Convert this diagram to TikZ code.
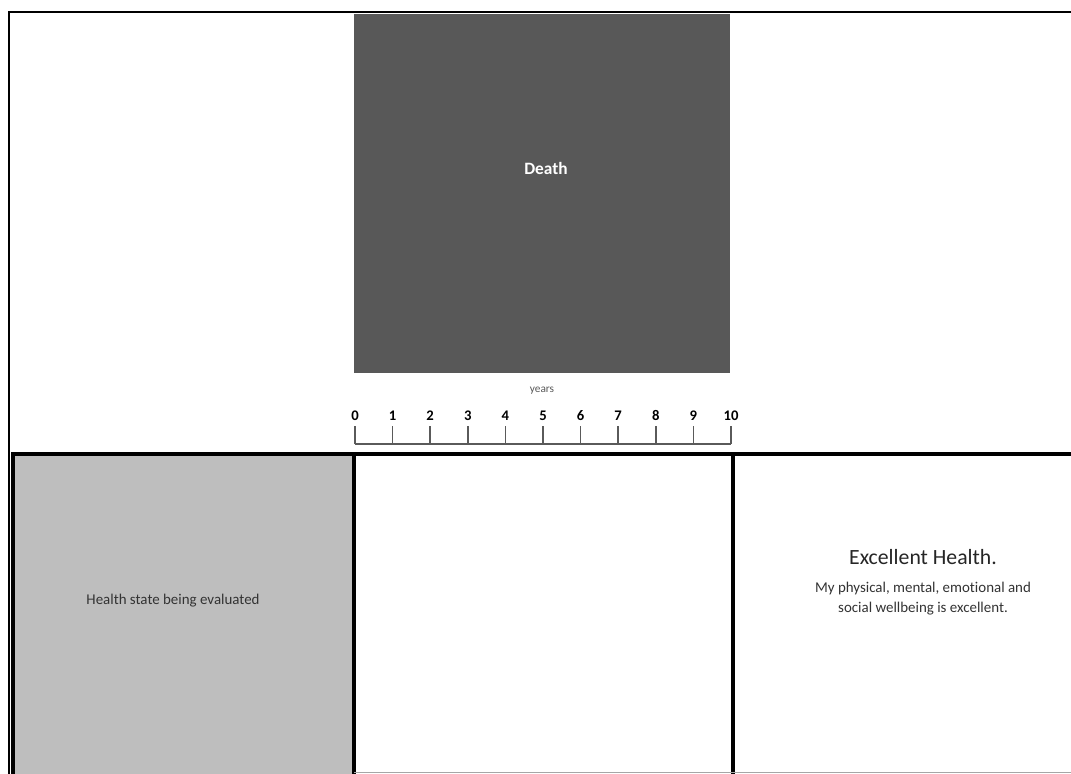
\documentclass[tikz,border=0pt]{standalone}
\usepackage{fontspec}
\setmainfont{Carlito}[Ligatures=NoCommon]
\definecolor{deathgray}{HTML}{585858}
\definecolor{stategray}{HTML}{BEBEBE}
\definecolor{rulegray}{HTML}{5A5A5A}
\definecolor{textgray}{HTML}{333333}
\begin{document}
\begin{tikzpicture}[x=0.75pt,y=-0.75pt,
  frameline/.style={draw=black,line width=1.6pt},
  boxline/.style={draw=black,line width=2.3pt},
  tickline/.style={draw=rulegray,line width=1.1pt},
  smalltext/.style={font=\fontsize{11.2pt}{15pt}\selectfont,text=textgray,align=center},
  numtext/.style={font=\fontsize{11pt}{12pt}\selectfont\bfseries,text=black,anchor=base,inner sep=0pt}]
\useasboundingbox (0,0) rectangle (1071,774);
\fill[white] (0,0) rectangle (1071,774);
% outer frame
\coordinate (ftl) at (9,12);
\coordinate (ftr) at (1075,12);
\coordinate (fbl) at (9,780);
\draw[frameline] (ftr) -- (ftl) -- (fbl);
% death box
\node[draw=none,fill=deathgray,minimum width=376*0.75pt,minimum height=359*0.75pt,anchor=north west,inner sep=0pt] (death) at (354,14) {};
\node[font=\fontsize{13pt}{15pt}\selectfont\bfseries,text=white] (deathlbl) at (546,168) {Death};
% years & ruler
\node[font=\fontsize{8.5pt}{10pt}\selectfont,text=rulegray] (years) at (542,391) {years};
\coordinate (r0) at (355,444);
\coordinate (r10) at (731,444);
\draw[tickline] (r0) -- (r10);
\foreach \i in {0,...,10}{
  \coordinate (t\i) at (355+37.6*\i,444);
  \draw[tickline] (t\i) -- ++(0,-18);
  \node[numtext] (n\i) at (355+37.6*\i,420) {\i};
}
% bottom boxes
\path[fill=stategray] (13,454) rectangle (354,790);
\node[smalltext] (state) at (173,601) {Health state being evaluated};
\draw[boxline] (13,790) -- (13,454) -- (1075,454);
\draw[boxline] (354,454) -- (354,790);
\draw[boxline] (733,454) -- (733,790);
\coordinate (bl) at (354,772.5);
\coordinate (br) at (1075,772.5);
\draw[draw=gray!70,line width=1pt] (bl) -- (br);
\node[font=\fontsize{16.3pt}{18pt}\selectfont,text=black!85] (exc) at (923,557) {Excellent Health.};
\node[smalltext] (excdesc) at (923,599) {My physical, mental, emotional and\\social wellbeing is excellent.};
\end{tikzpicture}
\end{document}
